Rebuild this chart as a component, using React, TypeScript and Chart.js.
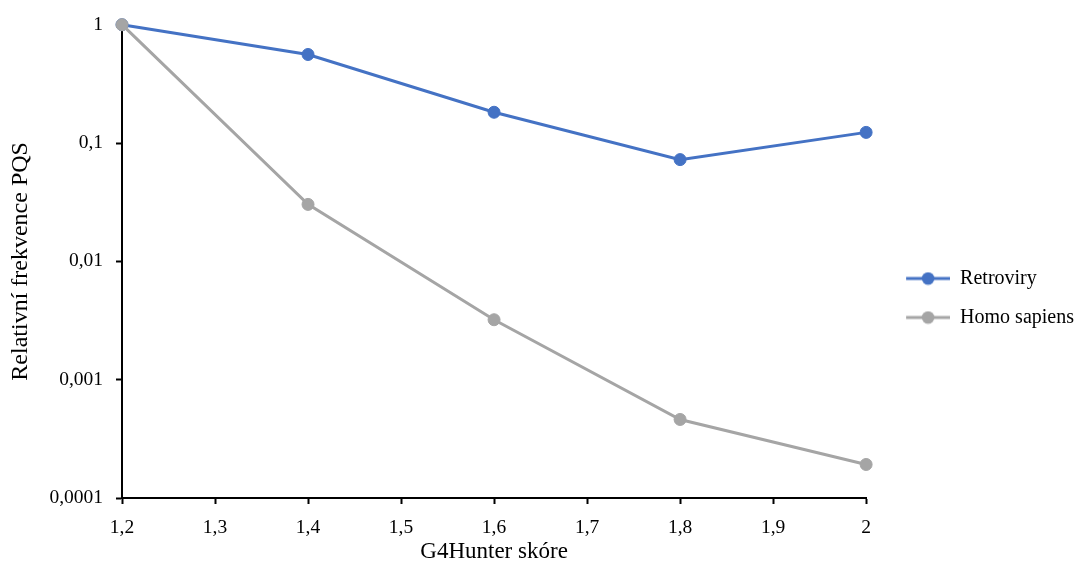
import React, { useEffect, useRef } from "react";
import { Chart, registerables } from "chart.js";

Chart.register(...registerables);

const xValues = [1.2, 1.4, 1.6, 1.8, 2.0];
const retroviry = [1, 0.56, 0.182, 0.0724, 0.123];
const homoSapiens = [1, 0.0303, 0.00321, 0.000461, 0.000192];
const seriesNames = ["Retroviry", "Homo sapiens"];
const seriesColors = ["#4472C4", "#A5A5A5"];
const xTicks = [1.2, 1.3, 1.4, 1.5, 1.6, 1.7, 1.8, 1.9, 2.0];
const yTicks = [0.0001, 0.001, 0.01, 0.1, 1];
const xTitle = "G4Hunter skóre";
const yTitle = "Relativní frekvence PQS";

const FONT = "'Liberation Serif', 'Times New Roman', serif";

function fmt(v: number): string {
  const r = Math.round(v * 10000) / 10000;
  return String(r).replace(".", ",");
}

function legendImage(color: string): HTMLCanvasElement {
  const c = document.createElement("canvas");
  c.width = 65;
  c.height = 14;
  const ctx = c.getContext("2d")!;
  ctx.strokeStyle = color;
  ctx.lineWidth = 3;
  ctx.beginPath();
  ctx.moveTo(21, 7);
  ctx.lineTo(65, 7);
  ctx.stroke();
  ctx.fillStyle = color;
  ctx.beginPath();
  ctx.arc(43, 7, 6.3, 0, Math.PI * 2);
  ctx.fill();
  return c;
}

export default function App() {
  const ref = useRef<HTMLCanvasElement | null>(null);

  useEffect(() => {
    if (!ref.current) return;
    const series = [retroviry, homoSapiens];
    const images = seriesColors.map((c) => legendImage(c));
    const chart = new Chart(ref.current, {
      type: "line",
      data: {
        datasets: series.map((vals, i) => ({
          label: seriesNames[i],
          data: vals.map((y, j) => ({ x: xValues[j], y })),
          borderColor: seriesColors[i],
          backgroundColor: seriesColors[i],
          borderWidth: 3,
          pointRadius: 6,
          pointBorderWidth: 1,
          pointBackgroundColor: seriesColors[i],
          pointBorderColor: seriesColors[i],
          tension: 0,
          clip: false as any,
          order: i === 0 ? 1 : 0,
        })),
      },
      options: {
        animation: false,
        responsive: true,
        maintainAspectRatio: false,
        layout: { padding: { left: 0, top: 22, right: -6, bottom: 0 } },
        plugins: {
          tooltip: { enabled: false },
          legend: {
            position: "right",
            align: "center",
            title: {
              display: true,
              text: " ",
              padding: 0,
              font: { size: 8, lineHeight: 1 },
            },
            labels: {
              usePointStyle: true,
              pointStyleWidth: 65,
              padding: 19,
              color: "#000",
              font: { family: FONT, size: 20 },
              generateLabels: (ch: any) => {
                const items = Chart.defaults.plugins.legend.labels.generateLabels(ch);
                return items
                  .map((it: any) => ({
                    ...it,
                    pointStyle: images[it.datasetIndex],
                  }))
                  .sort((a: any, b: any) => a.datasetIndex - b.datasetIndex);
              },
            },
          },
        },
        scales: {
          x: {
            type: "linear",
            min: 1.2,
            max: 2.0,
            afterBuildTicks: (s: any) => {
              s.ticks = xTicks.map((v) => ({ value: v }));
            },
            afterFit: (s: any) => {
              s.height = 68;
            },
            ticks: {
              color: "#000",
              font: { family: FONT, size: 19.5 },
              padding: 12,
              maxRotation: 0,
              autoSkip: false,
              callback: (v: any) => fmt(Number(v)),
            },
            grid: {
              drawOnChartArea: false,
              drawTicks: true,
              tickLength: 6,
              tickWidth: 2,
              tickColor: "#000",
            },
            border: { display: true, color: "#000", width: 2 },
            title: {
              display: true,
              text: xTitle,
              color: "#000",
              font: { family: FONT, size: 23 },
              padding: { top: 0, bottom: 0 },
            },
          },
          y: {
            type: "logarithmic",
            min: 0.0001,
            max: 1,
            afterBuildTicks: (s: any) => {
              s.ticks = yTicks.map((v) => ({ value: v }));
            },
            afterFit: (s: any) => {
              s.width = 122;
            },
            ticks: {
              color: "#000",
              font: { family: FONT, size: 19.5 },
              padding: 13,
              autoSkip: false,
              callback: (v: any) => fmt(Number(v)),
            },
            grid: {
              drawOnChartArea: false,
              drawTicks: true,
              tickLength: 6,
              tickWidth: 2,
              tickColor: "#000",
            },
            border: { display: true, color: "#000", width: 2 },
            title: {
              display: true,
              text: yTitle,
              color: "#000",
              font: { family: FONT, size: 24 },
              padding: { top: 6, bottom: 0 },
            },
          },
        },
      },
    });
    return () => chart.destroy();
  }, []);

  return (
    <div
      style={{
        position: "fixed",
        left: 0,
        top: 0,
        width: 1078,
        height: 566,
        background: "#fff",
      }}
    >
      <canvas ref={ref} />
    </div>
  );
}
